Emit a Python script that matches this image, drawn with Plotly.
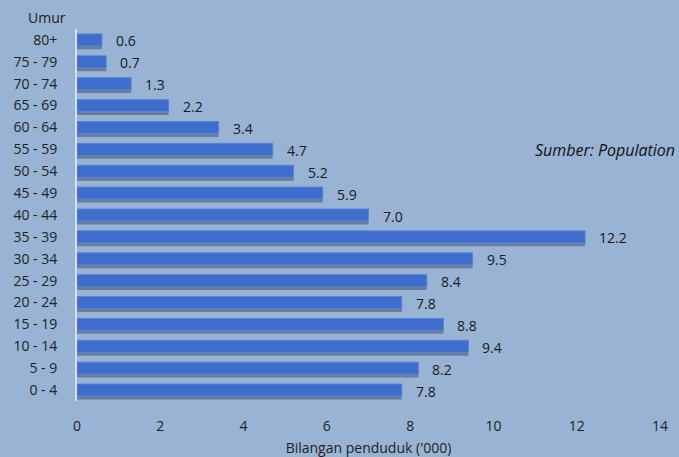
import plotly.graph_objects as go

age_groups = ["80+", "75 - 79", "70 - 74", "65 - 69", "60 - 64", "55 - 59", "50 - 54",
              "45 - 49", "40 - 44", "35 - 39", "30 - 34", "25 - 29", "20 - 24",
              "15 - 19", "10 - 14", "5 - 9", "0 - 4"]
population = [0.6, 0.7, 1.3, 2.2, 3.4, 4.7, 5.2, 5.9, 7.0, 12.2, 9.5, 8.4, 7.8,
              8.8, 9.4, 8.2, 7.8]
x_ticks = [0, 2, 4, 6, 8, 10, 12, 14]

BG = "#98B3D3"
FONT = "Open Sans"
order = list(reversed(age_groups))

fig = go.Figure()
# soft shadow beneath each bar
fig.add_trace(go.Bar(
    y=age_groups, x=population, orientation="h",
    width=0.5, offset=-0.43,
    marker=dict(color="rgba(35,45,70,0.4)", line=dict(width=0)),
    hoverinfo="skip", showlegend=False,
))
fig.add_trace(go.Bar(
    y=age_groups, x=population, orientation="h",
    width=0.55, offset=-0.275,
    marker=dict(color="#3F6DCD", line=dict(color="#5A84D8", width=1)),
    showlegend=False,
))

for a, v in zip(age_groups, population):
    fig.add_annotation(x=v, y=a, text=f"{v:.1f}", showarrow=False,
                       xanchor="left", xshift=12, yshift=-1,
                       font=dict(family=FONT, size=14, color="#1a1a1a"))

fig.add_annotation(xref="paper", yref="paper", x=1.0 + 17/583, y=(401-150)/372,
                   text="<i>Sumber: Population</i>", showarrow=False,
                   xanchor="right", yanchor="middle",
                   font=dict(family=FONT, size=16, color="#111"))
fig.add_annotation(xref="paper", yref="paper", x=(47-77)/583, y=(401-17)/372,
                   text="Umur", showarrow=False, xanchor="center", yanchor="middle",
                   font=dict(family=FONT, size=14, color="#222"))

fig.update_layout(
    width=679, height=457,
    margin=dict(l=77, r=19, t=29, b=56, autoexpand=False),
    paper_bgcolor=BG, plot_bgcolor=BG,
    barmode="overlay",
    font=dict(family=FONT, size=14, color="#222"),
    xaxis=dict(range=[0, 14], tickvals=x_ticks, showgrid=False, zeroline=False,
               automargin=False,
               ticks="outside", ticklen=12, tickcolor=BG, showline=False,
               title=dict(text="Bilangan penduduk ('000)", standoff=12,
                          font=dict(family=FONT, size=14, color="#222")),
               tickfont=dict(family=FONT, size=14, color="#222")),
    yaxis=dict(categoryorder="array", categoryarray=order, range=[-0.5, 16.5],
               automargin=False,
               showgrid=False, zeroline=False, showline=True, linecolor="#D6DEE8",
               linewidth=2, ticks="", ticklabelstandoff=15,
               tickfont=dict(family=FONT, size=14, color="#222")),
)

fig.write_html("out.html", config={"displayModeBar": False},
               post_script="document.body.style.margin='0';document.body.style.background='" + BG + "';")
